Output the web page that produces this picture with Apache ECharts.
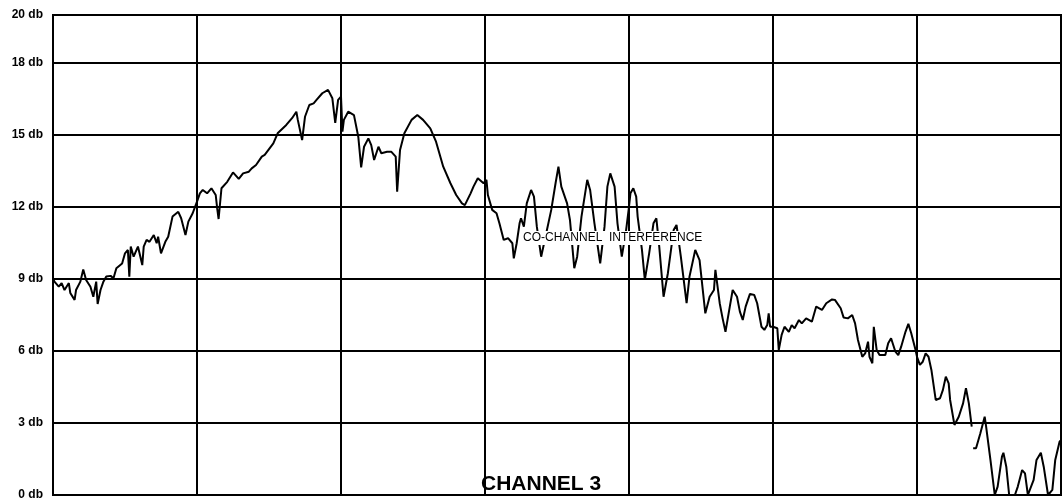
<!DOCTYPE html>
<html>
<head>
<meta charset="utf-8">
<script src="https://cdn.jsdelivr.net/npm/echarts@6/dist/echarts.min.js"></script>
<style>html,body{margin:0;padding:0;background:#fff}#c{width:1064px;height:502px}</style>
</head>
<body>
<div id="c"></div>
<script>
// x: position along sweep in grid divisions (0..7), y: level in db
const sweepX = [
0.00,0.01,0.04,0.06,0.08,0.11,0.12,0.15,0.16,0.19,0.21,0.23,0.26,0.28,0.30,0.31,0.33,0.35,0.37,0.40,
0.42,0.44,0.48,0.50,0.52,0.53,0.54,0.56,0.58,0.59,0.62,0.63,0.65,0.67,0.70,0.72,0.73,0.75,0.78,0.80,
0.83,0.87,0.89,0.92,0.94,0.97,1.00,1.02,1.04,1.07,1.10,1.13,1.14,1.15,1.17,1.21,1.25,1.29,1.32,1.36,
1.38,1.41,1.45,1.47,1.53,1.56,1.62,1.66,1.69,1.70,1.73,1.75,1.78,1.81,1.83,1.87,1.91,1.94,1.96,1.98,
2.00,2.01,2.02,2.05,2.09,2.12,2.14,2.16,2.19,2.21,2.23,2.26,2.28,2.32,2.35,2.38,2.39,2.41,2.44,2.49,
2.53,2.57,2.62,2.66,2.71,2.76,2.80,2.84,2.86,2.90,2.92,2.95,2.99,3.01,3.02,3.05,3.08,3.10,3.13,3.16,
3.19,3.20,3.22,3.24,3.25,3.27,3.29,3.32,3.34,3.36,3.39,3.42,3.46,3.49,3.51,3.53,3.57,3.59,3.62,3.64,
3.67,3.71,3.73,3.76,3.80,3.83,3.85,3.87,3.90,3.92,3.95,3.98,4.00,4.01,4.03,4.05,4.06,4.09,4.11,4.14,
4.17,4.19,4.21,4.24,4.27,4.31,4.33,4.36,4.40,4.42,4.46,4.49,4.53,4.56,4.59,4.60,4.63,4.65,4.67,4.70,
4.72,4.75,4.77,4.79,4.81,4.82,4.84,4.87,4.89,4.92,4.94,4.96,4.97,4.98,5.00,5.03,5.04,5.06,5.08,5.11,
5.13,5.15,5.18,5.20,5.23,5.27,5.30,5.34,5.37,5.41,5.43,5.47,5.49,5.52,5.55,5.57,5.59,5.62,5.64,5.66,
5.67,5.69,5.70,5.72,5.74,5.78,5.80,5.82,5.85,5.87,5.89,5.92,5.94,5.96,5.99,6.00,6.02,6.04,6.06,6.08,
6.10,6.13,6.16,6.18,6.20,6.22,6.23,6.26,6.29,6.32,6.34,6.36,6.38,6.385,
6.39,6.41,6.44,6.47,6.48,6.51,6.54,6.56,6.59,6.60,6.62,6.64,6.68,6.70,6.73,6.75,6.77,6.81,6.83,6.86,
6.88,6.91,6.94,6.96,6.99,7.00
];
const sweepDb = [
9.03,8.89,8.68,8.83,8.54,8.83,8.42,8.13,8.54,8.89,9.40,8.96,8.68,8.26,8.89,7.96,8.54,8.89,9.10,9.13,
9.03,9.45,9.65,10.07,10.21,9.10,10.35,9.93,10.21,10.35,9.58,10.35,10.63,10.55,10.83,10.49,10.76,10.07,10.55,10.76,
11.60,11.80,11.53,10.83,11.39,11.74,12.22,12.57,12.71,12.57,12.78,12.50,11.95,11.50,12.78,13.05,13.44,13.17,13.40,13.47,
13.61,13.75,14.10,14.17,14.65,15.07,15.42,15.70,15.97,15.63,14.79,15.76,16.25,16.32,16.46,16.74,16.88,16.53,15.51,16.46,
16.60,15.14,15.63,15.97,15.83,14.93,13.65,14.51,14.86,14.58,13.96,14.51,14.24,14.30,14.30,14.10,12.64,14.38,15.07,15.63,
15.83,15.63,15.28,14.72,13.68,12.99,12.50,12.15,12.08,12.57,12.85,13.20,12.99,13.13,12.50,11.88,11.74,11.32,10.63,10.70,
10.49,9.86,10.49,11.32,11.53,11.18,12.15,12.71,12.43,11.18,9.93,10.76,11.88,12.99,13.68,12.85,12.15,11.46,9.45,9.93,
11.60,13.13,12.71,11.32,9.65,11.18,12.85,13.40,12.85,11.32,9.93,11.04,12.01,12.57,12.78,12.43,11.60,10.21,8.96,10.07,
11.32,11.53,10.35,8.26,9.24,11.04,11.25,9.93,7.99,9.10,10.21,9.79,7.57,8.26,8.54,9.38,7.99,7.36,6.80,7.85,
8.54,8.26,7.64,7.29,7.85,7.92,8.38,8.33,7.99,7.01,6.88,7.08,7.57,7.01,7.01,6.95,6.04,6.67,7.01,6.80,
7.08,6.95,7.29,7.15,7.36,7.22,7.85,7.71,7.99,8.15,8.13,7.78,7.40,7.36,7.50,7.15,6.46,5.76,5.90,6.39,
5.76,5.49,7.01,6.04,5.83,5.83,6.32,6.53,5.97,5.83,6.18,6.80,7.13,6.74,6.04,5.76,5.42,5.55,5.90,5.76,
5.21,3.96,4.03,4.38,4.93,4.65,3.96,2.92,3.26,3.82,4.45,3.82,2.85,null,
1.95,1.95,2.57,3.26,2.85,1.46,0.00,0.35,1.60,1.76,1.18,0.00,0.00,0.35,1.04,0.90,0.00,0.63,1.46,1.76,
1.18,0.00,0.21,1.46,2.22,2.29
];
const yTicks = [0, 3, 6, 9, 12, 15, 18, 20];
const titleText = 'CHANNEL 3';
const noteText = 'CO-CHANNEL  INTERFERENCE';

const data = sweepX.map((x, i) => [x, sweepDb[i]]);
const chart = echarts.init(document.getElementById('c'), null, {renderer: 'canvas'});
chart.setOption({
  animation: false,
  backgroundColor: '#fff',
  grid: {left: 53, right: 3, top: 15, bottom: 7, show: true, borderColor: '#000', borderWidth: 2, backgroundColor: 'transparent'},
  xAxis: {
    type: 'value', min: 0, max: 7, interval: 1,
    axisLine: {show: false}, axisTick: {show: false}, axisLabel: {show: false},
    splitLine: {show: true, lineStyle: {color: '#000', width: 2}}
  },
  yAxis: {
    type: 'value', min: yTicks[0], max: yTicks[yTicks.length - 1], interval: 3,
    axisLine: {show: false}, axisTick: {show: false},
    axisLabel: {
      show: true, margin: 10, color: '#000', fontSize: 12, fontWeight: 'bold',
      fontFamily: 'Liberation Sans, Arial, sans-serif',
      formatter: v => yTicks.indexOf(v) >= 0 ? v + ' db' : ''
    },
    splitLine: {show: true, lineStyle: {color: '#000', width: 2}}
  },
  series: [{
    type: 'line', data: data, showSymbol: false, connectNulls: false, clip: false,
    lineStyle: {color: '#000', width: 2}, z: 3
  }],
  graphic: [
    {type: 'text', left: 481, top: 474, z: 10,
     style: {text: titleText, fill: '#000', font: 'bold 21px "Liberation Sans", Arial, sans-serif'}},
    {type: 'text', left: 522, top: 231, z: 10,
     style: {text: noteText, fill: '#000', font: '12px "Liberation Sans", Arial, sans-serif',
             backgroundColor: '#fff', padding: [1, 1]}}
  ]
});
</script>
</body>
</html>
